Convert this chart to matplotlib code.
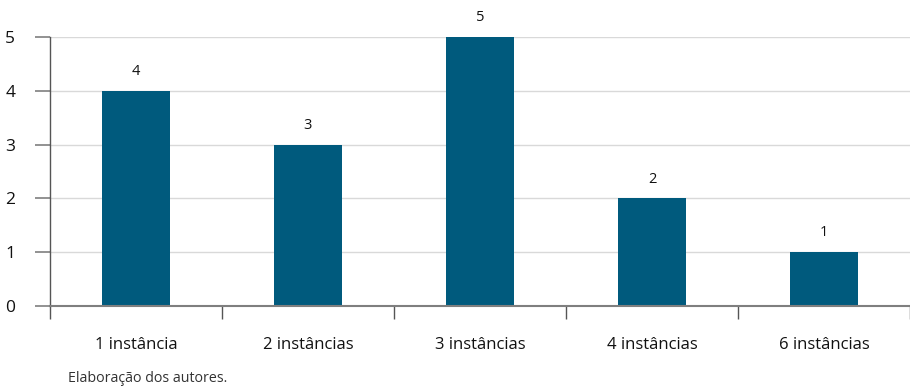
import matplotlib
matplotlib.use("Agg")
import matplotlib.pyplot as plt
import numpy as np

categories = ["1 instância", "2 instâncias", "3 instâncias", "4 instâncias", "6 instâncias"]
values = [4, 3, 5, 2, 1]
yticks = [0, 1, 2, 3, 4, 5]

plt.rcParams["font.family"] = ["Open Sans", "DejaVu Sans"]

fig = plt.figure(figsize=(9.10, 3.87), dpi=100)
ax = fig.add_axes([50 / 910, 1 - 306 / 387, 860 / 910, (306 - 37) / 387])

x = np.arange(len(categories))
bar_color = "#005a7d"
ax.bar(x, values, width=0.4, color=bar_color, zorder=3)

for xi, v in zip(x, values):
    ax.text(xi, v + 0.22, str(v), ha="center", va="bottom", fontsize=10.5, color="#111111")

ax.set_xlim(-0.5, len(categories) - 0.5)
ax.set_ylim(0, 5)
ax.set_yticks(yticks)
ax.set_yticklabels([str(t) for t in yticks], fontsize=12.5, color="#111111")
ax.yaxis.grid(True, color="#d9d9d9", linewidth=1, zorder=0)

# category labels centered, separators at category boundaries
ax.set_xticks(x)
ax.set_xticklabels(categories, fontsize=12, color="#111111")
ax.tick_params(axis="x", length=0, pad=22)
ax.set_xticks(np.arange(len(categories) + 1) - 0.5, minor=True)
ax.tick_params(axis="x", which="minor", length=9, width=1, color="#555555")
ax.tick_params(axis="y", length=11, width=1.2, color="#7f7f7f", pad=14)

for s in ["top", "right"]:
    ax.spines[s].set_visible(False)
ax.spines["left"].set_color("#555555")
ax.spines["left"].set_linewidth(1)
ax.spines["bottom"].set_color("#7f7f7f")
ax.spines["bottom"].set_linewidth(1.5)
ax.spines["bottom"].set_zorder(4)

fig.text(68 / 910, 1 - 378 / 387, "Elaboração dos autores.", fontsize=10.3,
         family=["Liberation Sans Narrow", "Open Sans", "DejaVu Sans"],
         color="#333333", va="center", ha="left")

fig.savefig("out.png", dpi=100)
